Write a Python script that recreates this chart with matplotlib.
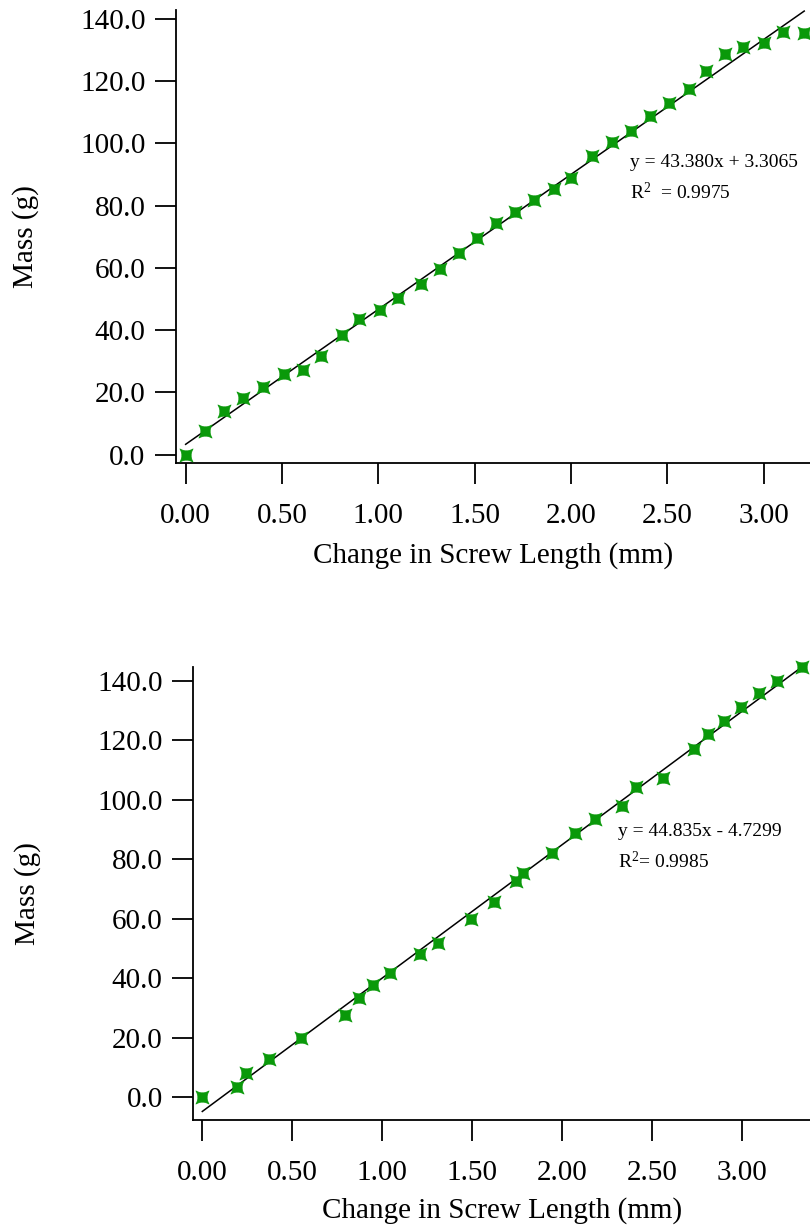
import matplotlib
matplotlib.use("Agg")
import matplotlib.pyplot as plt
from matplotlib.path import Path
from matplotlib.ticker import FormatStrFormatter, MultipleLocator
import numpy as np

plt.rcParams['font.family'] = ['Liberation Serif', 'DejaVu Serif']
plt.rcParams['mathtext.fontset'] = 'custom'
plt.rcParams['mathtext.rm'] = 'Liberation Serif'
plt.rcParams['mathtext.it'] = 'Liberation Serif:italic'

# ---------------- data ----------------
x_top = [0.00, 0.10, 0.20, 0.30, 0.40, 0.51, 0.61, 0.70, 0.81, 0.90, 1.01,
         1.10, 1.22, 1.32, 1.42, 1.51, 1.61, 1.71, 1.81, 1.91, 2.00, 2.11,
         2.21, 2.31, 2.41, 2.51, 2.61, 2.70, 2.80, 2.89, 3.00, 3.10, 3.21]
y_top = [0.0, 7.5, 13.9, 18.1, 21.7, 25.8, 27.1, 31.8, 38.4, 43.6, 46.4,
         50.4, 54.9, 59.7, 64.8, 69.6, 74.5, 78.1, 81.9, 85.4, 89.0, 96.1,
         100.6, 104.1, 108.8, 113.1, 117.5, 123.3, 128.7, 131.1, 132.2, 135.7, 135.6]
slope_top, intercept_top = 43.380, 3.3065
eq_top = "y = 43.380x + 3.3065"
r2_top = r"R$^{2}$  = 0.9975"

x_bot = [0.00, 0.19, 0.24, 0.37, 0.55, 0.79, 0.87, 0.95, 1.04, 1.21, 1.31,
         1.49, 1.62, 1.74, 1.78, 1.94, 2.07, 2.18, 2.33, 2.41, 2.56, 2.73,
         2.81, 2.90, 2.99, 3.09, 3.19, 3.33]
y_bot = [0.0, 3.6, 8.1, 12.9, 20.0, 27.8, 33.4, 37.7, 41.9, 48.2, 51.8,
         59.8, 65.8, 72.7, 75.3, 82.0, 88.9, 93.4, 98.0, 104.4, 107.4, 117.1,
         122.0, 126.6, 131.1, 136.0, 140.0, 144.7]
slope_bot, intercept_bot = 44.835, -4.7299
eq_bot = "y = 44.835x - 4.7299"
r2_bot = r"R$^{2}$= 0.9985"

x_label = "Change in Screw Length (mm)"
y_label = "Mass (g)"

# ---------------- marker ----------------
c = 0.38
verts = [(1, 1), (0, c), (-1, 1), (-c, 0), (-1, -1), (0, -c), (1, -1), (c, 0), (1, 1), (1, 1)]
codes = [Path.MOVETO, Path.CURVE3, Path.CURVE3, Path.CURVE3, Path.CURVE3,
         Path.CURVE3, Path.CURVE3, Path.CURVE3, Path.CURVE3, Path.CLOSEPOLY]
star = Path(verts, codes)

GREEN = '#0a990a'
W, H = 810, 1230
fig = plt.figure(figsize=(W / 100, H / 100), dpi=100)


def make_axes(px_left, px_bottom, px_top, xlim, ylim, xs, ys, slope, intercept,
              eq, r2, eq_pos, r2_pos, ylab_x, xlab_y):
    ax = fig.add_axes([px_left / W, 1 - px_bottom / H, 1 - px_left / W,
                       (px_bottom - px_top) / H])
    ax.set_xlim(*xlim)
    ax.set_ylim(*ylim)
    for s in ('top', 'right'):
        ax.spines[s].set_visible(False)
    for s in ('left', 'bottom'):
        ax.spines[s].set_linewidth(1.3)
    ax.xaxis.set_major_locator(MultipleLocator(0.5))
    ax.yaxis.set_major_locator(MultipleLocator(20))
    ax.xaxis.set_major_formatter(FormatStrFormatter('%.2f'))
    ax.yaxis.set_major_formatter(FormatStrFormatter('%.1f'))
    ax.tick_params(axis='both', direction='out', length=15, width=1.3,
                   labelsize=21)
    ax.tick_params(axis='y', pad=7)
    ax.tick_params(axis='x', pad=14)
    xmin, xmax = min(xs), max(xs)
    ax.plot([xmin, xmax], [slope * xmin + intercept, slope * xmax + intercept],
            color='black', lw=1.1, clip_on=False, zorder=2)
    ax.plot(xs, ys, linestyle='none', marker=star, markersize=9.5,
            color=GREEN, mec=GREEN, mew=0.5, clip_on=False, zorder=3)
    ax.text(eq_pos[0], eq_pos[1], eq, transform=ax.transAxes, fontsize=14,
            va='center', ha='left')
    ax.text(r2_pos[0], r2_pos[1], r2, transform=ax.transAxes, fontsize=14,
            va='center', ha='left')
    ax.set_xlabel(x_label, fontsize=21, va='center')
    ax.set_ylabel(y_label, fontsize=21, va='center')
    ax.xaxis.set_label_coords(0.5, xlab_y)
    ax.yaxis.set_label_coords(ylab_x, 0.5)
    return ax


make_axes(176, 463, 10, (-0.05, 3.24), (-2.7, 142.9), x_top, y_top,
          slope_top, intercept_top, eq_top, r2_top,
          (0.716, 0.664), (0.716, 0.598), -0.238, -0.205)
make_axes(193.3, 1120, 666.7, (-0.05, 3.376), (-7.6, 144.7), x_bot, y_bot,
          slope_bot, intercept_bot, eq_bot, r2_bot,
          (0.689, 0.636), (0.689, 0.570), -0.268, -0.199)

fig.savefig("out.png", dpi=100)
